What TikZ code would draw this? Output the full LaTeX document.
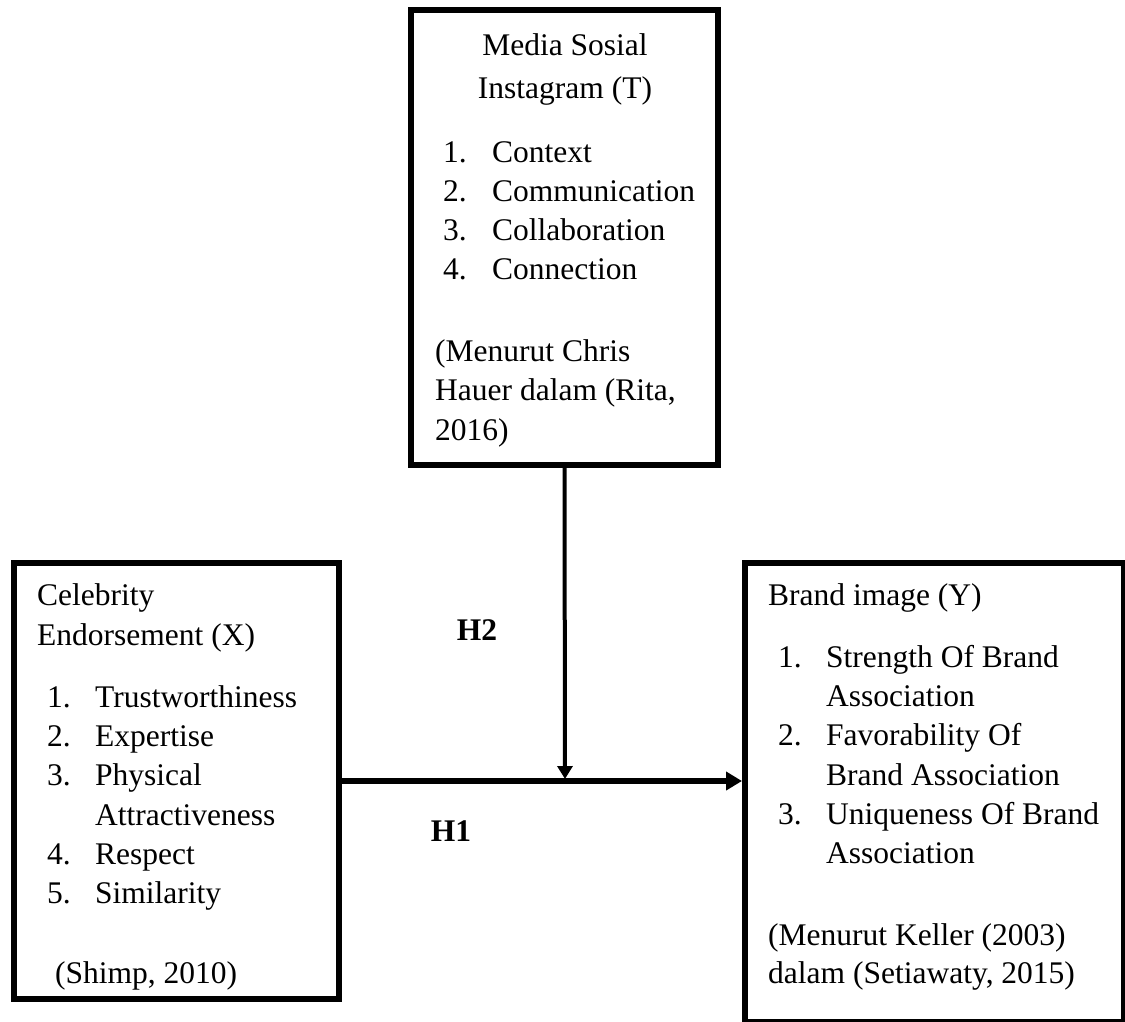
\documentclass[tikz,border=0pt]{standalone}
\usepackage{fontspec}
\setmainfont{Liberation Serif}
\usetikzlibrary{arrows.meta}
\begin{document}
\begin{tikzpicture}[x=1pt,y=-1pt,
  box/.style={draw, line width=6pt, inner sep=0pt},
  txt/.style={inner sep=0pt, anchor=base west, font=\fontsize{31.5}{39}\selectfont},
  ctxt/.style={txt, anchor=base},
  hlab/.style={inner sep=0pt, anchor=center, font=\fontsize{31.5}{39}\selectfont\bfseries},
  conn/.style={line width=6pt}]
\useasboundingbox (0,0) rectangle (1125,1021);
% boxes
\node[box, minimum width=307pt, minimum height=455pt] (T) at (564.5,237.5) {};
\node[box, minimum width=325pt, minimum height=436pt] (X) at (176.5,781) {};
\node[box, minimum width=379pt, minimum height=459pt] (Y) at (934.5,792.5) {};
% top box text
\node[ctxt] (t0a) at (565,55) {Media Sosial};
\node[ctxt] (t0b) at (565,98) {Instagram (T)};
\node[txt] (t1n) at (443,162) {1.};
\node[txt] (t1) at (492,162) {Context};
\node[txt] (t2n) at (443,201) {2.};
\node[txt] (t2) at (492,201) {Communication};
\node[txt] (t3n) at (443,240) {3.};
\node[txt] (t3) at (492,240) {Collaboration};
\node[txt] (t4n) at (443,279) {4.};
\node[txt] (t4) at (492,279) {Connection};
\node[txt] (tr1) at (435,361) {(Menurut Chris};
\node[txt] (tr2) at (435,400) {Hauer dalam (Rita,};
\node[txt] (tr3) at (435,440) {2016)};
% left box text
\node[txt] (x0a) at (37,605) {Celebrity};
\node[txt] (x0b) at (37,645) {Endorsement (X)};
\node[txt] (x1n) at (47,707) {1.};
\node[txt] (x1) at (95,707) {Trustworthiness};
\node[txt] (x2n) at (47,746) {2.};
\node[txt] (x2) at (95,746) {Expertise};
\node[txt] (x3n) at (47,785) {3.};
\node[txt] (x3) at (95,785) {Physical};
\node[txt] (x3b) at (95,825) {Attractiveness};
\node[txt] (x4n) at (47,864) {4.};
\node[txt] (x4) at (95,864) {Respect};
\node[txt] (x5n) at (47,903) {5.};
\node[txt] (x5) at (95,903) {Similarity};
\node[txt] (xr) at (55,983) {(Shimp, 2010)};
% right box text
\node[txt] (y0) at (768,605) {Brand image (Y)};
\node[txt] (y1n) at (778,667) {1.};
\node[txt] (y1) at (826,667) {Strength Of Brand};
\node[txt] (y1b) at (826,706) {Association};
\node[txt] (y2n) at (778,745) {2.};
\node[txt] (y2) at (826,745) {Favorability Of};
\node[txt] (y2b) at (826,785) {Brand Association};
\node[txt] (y3n) at (778,824) {3.};
\node[txt] (y3) at (826,824) {Uniqueness Of Brand};
\node[txt] (y3b) at (826,863) {Association};
\node[txt] (yr1) at (768,945) {(Menurut Keller (2003)};
\node[txt] (yr2) at (768,983) {dalam (Setiawaty, 2015)};
% labels
\node[hlab] (h2) at (477,630) {H2};
\node[hlab] (h1) at (451,831) {H1};
% connectors
\coordinate (J) at (565,779);
\draw[conn, -{Triangle[length=16pt,width=18pt]}] (X.east) -- (X.east -| Y.west);
\draw[line width=4pt, -{Triangle[length=13pt,width=15pt]}] (T.south) -- (J);
\end{tikzpicture}
\end{document}
